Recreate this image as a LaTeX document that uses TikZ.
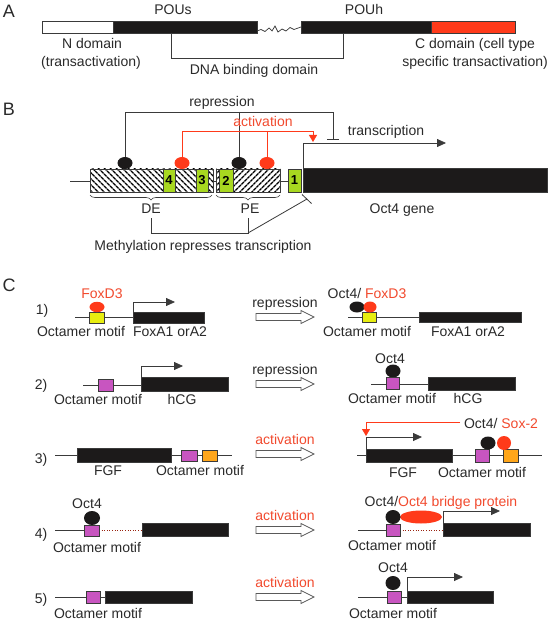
\documentclass[tikz,border=0pt]{standalone}
\usepackage{fontspec}
\setmainfont{Liberation Sans}
\usetikzlibrary{patterns.meta,decorations.pathreplacing,arrows.meta}
\definecolor{genec}{HTML}{1C1A1A}
\definecolor{rd}{HTML}{FF3A1A}
\definecolor{rtext}{HTML}{F24A2E}
\definecolor{grn}{HTML}{A8D820}
\definecolor{yel}{HTML}{E8EE10}
\definecolor{mag}{HTML}{C855C0}
\definecolor{org}{HTML}{FFA61A}
\definecolor{ln}{HTML}{3A3A3A}
\definecolor{txt}{HTML}{2A2A2A}
\begin{document}
\begin{tikzpicture}[x=1pt,y=-1pt,
  lbl/.style={inner sep=0pt,text height=10pt,text depth=0pt,font=\fontsize{14}{16}\selectfont,text=txt},
  rlbl/.style={lbl,text=rtext},
  big/.style={inner sep=0pt,text height=12pt,text depth=0pt,font=\fontsize{18}{20}\selectfont,text=txt},
  genebox/.style={fill=genec,draw=ln,line width=0.5pt},
  track/.style={draw=ln,line width=0.7pt},
  conn/.style={draw=ln,line width=0.8pt},
  rconn/.style={draw=rd,line width=0.8pt},
  gbox/.style={fill=grn,draw=ln,line width=0.5pt},
  octbox/.style={draw=ln,line width=0.5pt},
  blob/.style={fill=genec},
  rblob/.style={fill=rd},
  tarrow/.style={conn,-{Triangle[length=9pt,width=8pt]}},
  harrow/.pic={\draw[draw=black!65,line width=0.8pt,fill=white] (0,-3.5) -- (45,-3.5) -- (45,-6.5) -- (58,0) -- (45,6.5) -- (45,3.5) -- (0,3.5) -- cycle;}
]
\useasboundingbox (0,0) rectangle (550,620);
\fill[white] (0,0) rectangle (550,620);

% ---------------- Panel A
\node[big] (lA) at (9,12) {A};
\draw[octbox,fill=white] (42,21) rectangle (113,33);
\draw[genebox] (113,21) rectangle (257,33);
\draw[ln,line width=0.7pt] (257,31) -- (261,29.5) -- (265,31.5) -- (269,28) -- (272,31) -- (275,26) -- (278,32) -- (282,29) -- (286,31) -- (290,27.5) -- (294,29.5) -- (301,27);
\draw[genebox] (301,21) rectangle (431,33);
\draw[fill=rd,draw=ln,line width=0.5pt] (431,21) rectangle (515,33);
\draw[conn] (171,33) -- (171,58) -- (343,58) -- (343,33);
\node[lbl] (pous) at (173,10) {POUs};
\node[lbl] (pouh) at (364,10) {POUh};
\node[lbl] (nd1) at (92,44) {N domain};
\node[lbl] (nd2) at (91,62) {(transactivation)};
\node[lbl] (dbd) at (254,70) {DNA binding domain};
\node[lbl] (cd1) at (475,44) {C domain (cell type};
\node[lbl] (cd2) at (475,62) {specific transactivation)};

% ---------------- Panel B
\node[big] (lB) at (9,110) {B};
\draw[track] (70,181) -- (90,181);
\draw[track] (213,181) -- (216,181);
\draw[track] (280,181) -- (288,181);
\draw[octbox,pattern={Lines[angle=-45,distance=4pt,line width=1.5pt]}] (90,169) rectangle (213,192);
\draw[octbox,pattern={Lines[angle=45,distance=4pt,line width=1.5pt]}] (216,169) rectangle (280,192);
\draw[gbox] (163,169) rectangle node[font=\bfseries\fontsize{13}{14}\selectfont] (e4) {4} (175,192);
\draw[gbox] (196,169) rectangle node[font=\bfseries\fontsize{13}{14}\selectfont] (e3) {3} (208,192);
\draw[gbox] (219,169) rectangle node[font=\bfseries\fontsize{13}{14}\selectfont] (e2) {2} (233,192);
\draw[gbox] (288,169) rectangle node[font=\bfseries\fontsize{13}{14}\selectfont] (e1) {1} (301,192);
\draw[genebox] (303,168) rectangle (547,192);
\coordinate (gs) at (303,168);
% lollipops
\fill[blob] (125,163) ellipse (7.5 and 6);
\fill[blob] (239,163) ellipse (7.5 and 6);
\fill[rblob] (182,163) ellipse (7.5 and 6);
\fill[rblob] (267,163) ellipse (7.5 and 6);
\draw[conn] (125,157) -- (125,112) -- (333,112) -- (333,139);
\draw[conn] (239,112) -- (239,157);
\draw[conn] (327,139) -- (339,139);
\draw[rconn] (182,157) -- (182,131) -- (267,131) -- (267,157);
\draw[rconn,-{Triangle[length=7pt,width=8pt]}] (267,131) -- (313,131) -- (313,142);
\draw[tarrow] (gs) -- (303,143) -- (446,143);
\node[lbl] (rep) at (222,102) {repression};
\node[rlbl] (act) at (263,122) {activation};
\node[lbl] (trs) at (386,131) {transcription};
% braces
\draw[ln,line width=0.6pt,decorate,decoration={brace,amplitude=5pt}] (212,195) -- (90,195);
\draw[ln,line width=0.6pt,decorate,decoration={brace,amplitude=5pt}] (280,195) -- (216,195);
\node[lbl] (de) at (151,209) {DE};
\node[lbl] (pe) at (250,209) {PE};
\node[lbl] (og) at (402,209) {Oct4 gene};
\draw[conn] (151,218) -- (151,233) -- (248,233) -- (248,218);
\draw[conn] (248,233) -- (307,199);
\draw[conn] (302,194.5) -- (311.5,203.5);
\node[lbl] (meth) at (203,245) {Methylation represses transcription};

% ---------------- Panel C
\node[big] (lC) at (9,285) {C};
\node[lbl] (n1) at (42,309) {1)};
\node[lbl] (n2) at (41,384) {2)};
\node[lbl] (n3) at (41,458) {3)};
\node[lbl] (n4) at (41,533) {4)};
\node[lbl] (n5) at (41,598) {5)};

% middle arrows
\node[lbl] (m1) at (285,302) {repression};
\pic at (256,317) {harrow};
\node[lbl] (m2) at (285,369) {repression};
\pic at (256,384) {harrow};
\node[rlbl] (m3) at (285,439) {activation};
\pic at (256,454) {harrow};
\node[rlbl] (m4) at (285,515) {activation};
\pic at (256,530) {harrow};
\node[rlbl] (m5) at (285,582) {activation};
\pic at (256,597) {harrow};

% row 1 left
\draw[track] (75,317) -- (133,317);
\draw[octbox,fill=yel] (89,312) rectangle (104,323);
\fill[rblob] (97,307) ellipse (7.5 and 5.2);
\draw[genebox] (133,312) rectangle (204,323);
\draw[tarrow] (133,312) -- (133,302) -- (175,302);
\node[rlbl] (f1) at (102,293) {FoxD3};
\node[lbl] (o1) at (81,331) {Octamer motif};
\node[lbl] (fa1) at (170,331) {FoxA1 orA2};
% row 1 right
\draw[track] (348,317) -- (419,317);
\draw[octbox,fill=yel] (362,312) rectangle (376,322);
\fill[blob] (357,307) ellipse (7.5 and 5.5);
\fill[rblob] (370,307) ellipse (6.5 and 5.5);
\draw[genebox] (419,312) rectangle (521,322);
\node[lbl] (f1r) at (367,293) {Oct4/ \textcolor{rtext}{FoxD3}};
\node[lbl] (o1r) at (367,331) {Octamer motif};
\node[lbl] (fa1r) at (468,331) {FoxA1 orA2};

% row 2 left
\draw[track] (83,385) -- (141,385);
\draw[octbox,fill=mag] (98,379) rectangle (113,391);
\draw[genebox] (141,377) rectangle (228,391);
\draw[tarrow] (141,377) -- (141,366) -- (183,366);
\node[lbl] (o2) at (98,399) {Octamer motif};
\node[lbl] (h2) at (182,399) {hCG};
% row 2 right
\draw[track] (371,384) -- (428,384);
\fill[blob] (393,371) ellipse (7.5 and 6.5);
\draw[octbox,fill=mag] (386,377) rectangle (399,389);
\draw[genebox] (428,377) rectangle (515,390);
\node[lbl] (oc2) at (390,358) {Oct4};
\node[lbl] (o2r) at (392,398) {Octamer motif};
\node[lbl] (h2r) at (468,398) {hCG};

% row 3 left
\draw[track] (55,455) -- (232,455);
\draw[genebox] (77,448) rectangle (171,462);
\draw[octbox,fill=mag] (181,450) rectangle (197,461);
\draw[octbox,fill=org] (202,450) rectangle (217,461);
\node[lbl] (fg3) at (108,470) {FGF};
\node[lbl] (o3) at (200,470) {Octamer motif};
% row 3 right
\draw[track] (357,455) -- (542,455);
\draw[genebox] (366,449) rectangle (452,462);
\draw[octbox,fill=mag] (475,449) rectangle (489,462);
\draw[octbox,fill=org] (503,449) rectangle (518,462);
\fill[blob] (488,443) ellipse (7.5 and 6.5);
\fill[rblob] (504,443) ellipse (7 and 7);
\draw[tarrow] (366,449) -- (366,437) -- (422,437);
\node[lbl] (sx) at (501,423) {Oct4/ \textcolor{rtext}{Sox-2}};
\draw[rconn,-{Triangle[length=7pt,width=8pt]}] (460,422) -- (366,422) -- (366,436);
\node[lbl] (fg3r) at (403,472) {FGF};
\node[lbl] (o3r) at (482,472) {Octamer motif};

% row 4 left
\draw[track] (55,530) -- (84,530);
\draw[rd!60!black,line width=0.6pt,dotted] (99,530) -- (142,530);
\fill[blob] (92,518) ellipse (8 and 7);
\draw[octbox,fill=mag] (84,525) rectangle (99,536);
\draw[genebox] (142,523) rectangle (228,536);
\node[lbl] (oc4) at (87,503) {Oct4};
\node[lbl] (o4) at (97,547) {Octamer motif};
% row 4 right
\draw[track] (358,530) -- (386,530);
\draw[rd!60!black,line width=0.6pt,dotted] (400,530) -- (443,530);
\fill[rblob] (421,517) ellipse (21 and 6.5);
\fill[blob] (393,517) ellipse (7.5 and 7);
\draw[octbox,fill=mag] (386,524) rectangle (400,536);
\draw[genebox] (443,523) rectangle (530,536);
\draw[tarrow] (443,523) -- (443,511) -- (500,511);
\node[lbl] (br) at (441,501) {Oct4/\textcolor{rtext}{Oct4 bridge protein}};
\node[lbl] (o4r) at (392,545) {Octamer motif};

% row 5 left
\draw[track] (55,597) -- (105,597);
\draw[octbox,fill=mag] (86,591) rectangle (100,603);
\draw[genebox] (105,591) rectangle (192,603);
\node[lbl] (o5) at (98,613) {Octamer motif};
% row 5 right
\draw[track] (358,597) -- (407,597);
\fill[blob] (393,583) ellipse (7.5 and 7);
\draw[octbox,fill=mag] (387,591) rectangle (401,603);
\draw[genebox] (407,591) rectangle (493,603);
\draw[tarrow] (407,591) -- (407,577) -- (463,577);
\node[lbl] (oc5) at (393,567) {Oct4};
\node[lbl] (o5r) at (393,613) {Octamer motif};
\end{tikzpicture}
\end{document}
